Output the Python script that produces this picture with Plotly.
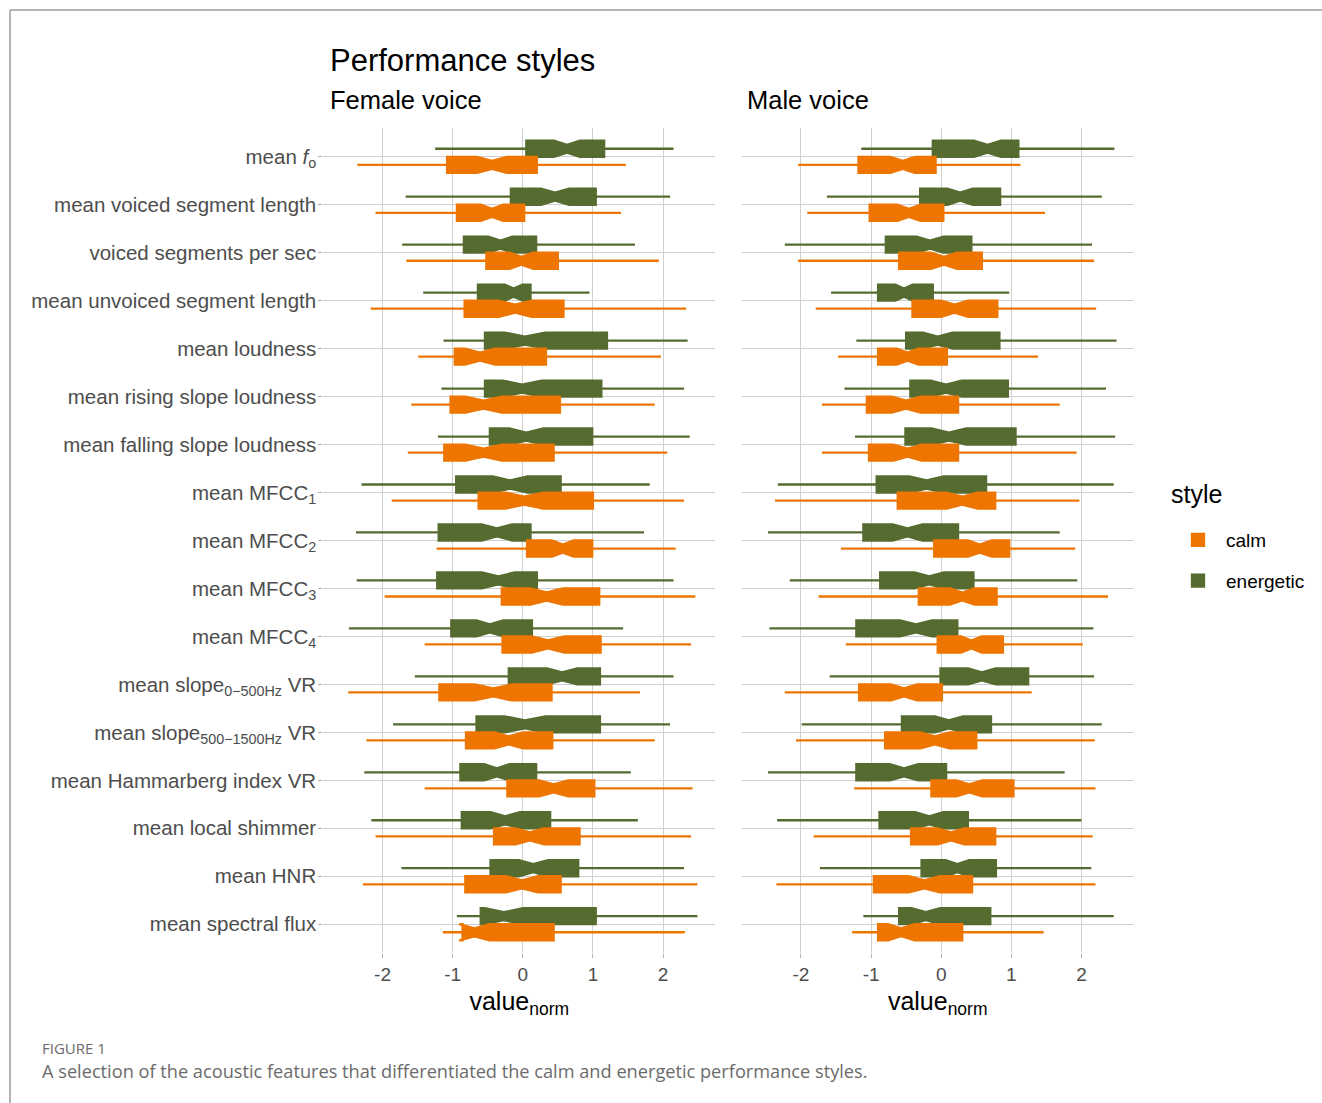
import plotly.graph_objects as go

W, H = 1322, 1103

# Feature labels, top to bottom
features = [
    "mean <i>f</i><sub>o</sub>",
    "mean voiced segment length",
    "voiced segments per sec",
    "mean unvoiced segment length",
    "mean loudness",
    "mean rising slope loudness",
    "mean falling slope loudness",
    "mean MFCC<sub>1</sub>",
    "mean MFCC<sub>2</sub>",
    "mean MFCC<sub>3</sub>",
    "mean MFCC<sub>4</sub>",
    "mean slope<sub>0\u2212500Hz</sub> VR",
    "mean slope<sub>500\u22121500Hz</sub> VR",
    "mean Hammarberg index VR",
    "mean local shimmer",
    "mean HNR",
    "mean spectral flux",
]
x_ticks = [-2, -1, 0, 1, 2]

# Box statistics (normalised values): lower whisker, Q1, median, Q3, upper whisker
female_energetic_lo = [-1.25, -1.67, -1.72, -1.42, -1.13, -1.16, -1.21, -2.30, -2.38, -2.37, -2.48, -1.54, -1.85, -2.26, -2.16, -1.73, -0.94]
female_energetic_q1 = [0.05, -0.17, -0.84, -0.64, -0.54, -0.54, -0.47, -0.95, -1.20, -1.22, -1.02, -0.20, -0.66, -0.89, -0.87, -0.46, -0.60]
female_energetic_med = [0.63, 0.46, -0.32, -0.13, 0.03, -0.01, 0.05, -0.18, -0.37, -0.35, -0.47, 0.56, 0.03, -0.37, -0.25, 0.15, -0.27]
female_energetic_q3 = [1.16, 1.04, 0.19, 0.11, 1.20, 1.12, 0.99, 0.54, 0.11, 0.20, 0.13, 1.10, 1.10, 0.19, 0.39, 0.79, 1.04]
female_energetic_hi = [2.15, 2.10, 1.60, 0.95, 2.35, 2.30, 2.38, 1.81, 1.73, 2.15, 1.43, 2.15, 2.10, 1.54, 1.64, 2.30, 2.49]

female_calm_lo = [-2.36, -2.10, -1.66, -2.17, -1.49, -1.59, -1.64, -1.87, -1.23, -1.97, -1.40, -2.49, -2.23, -1.40, -2.10, -2.28, -1.14]
female_calm_q1 = [-1.08, -0.94, -0.52, -0.83, -0.97, -1.03, -1.12, -0.63, 0.06, -0.30, -0.29, -1.19, -0.81, -0.22, -0.41, -0.82, -0.86]
female_calm_med = [-0.44, -0.44, -0.02, -0.11, -0.61, -0.56, -0.56, 0.02, 0.57, 0.34, 0.36, -0.42, -0.20, 0.44, 0.10, -0.01, -0.69]
female_calm_q3 = [0.20, 0.02, 0.50, 0.58, 0.33, 0.53, 0.44, 1.00, 0.99, 1.09, 1.11, 0.41, 0.42, 1.02, 0.81, 0.54, 0.44]
female_calm_hi = [1.47, 1.40, 1.94, 2.33, 1.97, 1.88, 2.06, 2.30, 2.18, 2.46, 2.40, 1.67, 1.88, 2.42, 2.40, 2.49, 2.31]

male_energetic_lo = [-1.14, -1.63, -2.23, -1.57, -1.21, -1.38, -1.23, -2.33, -2.47, -2.16, -2.45, -1.59, -1.99, -2.47, -2.34, -1.73, -1.11]
male_energetic_q1 = [-0.12, -0.30, -0.79, -0.90, -0.50, -0.44, -0.51, -0.92, -1.11, -0.87, -1.21, -0.01, -0.56, -1.21, -0.88, -0.28, -0.60]
male_energetic_med = [0.66, 0.27, -0.16, -0.53, -0.05, 0.07, 0.11, -0.21, -0.48, -0.17, -0.36, 0.58, 0.11, -0.53, -0.17, 0.23, -0.22]
male_energetic_q3 = [1.10, 0.84, 0.43, -0.12, 0.83, 0.95, 1.06, 0.64, 0.24, 0.46, 0.23, 1.24, 0.71, 0.07, 0.38, 0.78, 0.70]
male_energetic_hi = [2.47, 2.29, 2.15, 0.97, 2.50, 2.35, 2.48, 2.46, 1.69, 1.94, 2.17, 2.18, 2.29, 1.76, 2.00, 2.14, 2.46]

male_calm_lo = [-2.04, -1.91, -2.04, -1.79, -1.47, -1.70, -1.70, -2.37, -1.43, -1.75, -1.36, -2.23, -2.07, -1.24, -1.82, -2.35, -1.27]
male_calm_q1 = [-1.18, -1.02, -0.60, -0.41, -0.90, -1.06, -1.03, -0.62, -0.10, -0.32, -0.05, -1.17, -0.80, -0.14, -0.43, -0.96, -0.90]
male_calm_med = [-0.55, -0.46, 0.04, 0.19, -0.48, -0.50, -0.48, 0.30, 0.55, 0.30, 0.43, -0.53, -0.09, 0.40, 0.14, -0.24, -0.57]
male_calm_q3 = [-0.08, 0.03, 0.58, 0.80, 0.08, 0.24, 0.24, 0.77, 0.97, 0.79, 0.88, 0.01, 0.50, 1.03, 0.77, 0.44, 0.30]
male_calm_hi = [1.13, 1.48, 2.18, 2.21, 1.38, 1.69, 1.93, 1.97, 1.91, 2.38, 2.02, 1.29, 2.19, 2.20, 2.16, 2.20, 1.46]

# Recordings per voice, used for the notch half-width (1.58 * IQR / sqrt(n))
n_female = 90
n_male = 100

style_colors = {"calm": "#EE7600", "energetic": "#556B2F"}
FONT = "Liberation Sans"
positions = list(range(len(features)))


def notch(q1, q3, n):
    return [1.58 * (b - a) / n ** 0.5 for a, b in zip(q1, q3)]


panels = [
    ("x", "y", "f", n_female, {
        "energetic": (female_energetic_lo, female_energetic_q1, female_energetic_med, female_energetic_q3, female_energetic_hi),
        "calm": (female_calm_lo, female_calm_q1, female_calm_med, female_calm_q3, female_calm_hi),
    }),
    ("x2", "y2", "m", n_male, {
        "energetic": (male_energetic_lo, male_energetic_q1, male_energetic_med, male_energetic_q3, male_energetic_hi),
        "calm": (male_calm_lo, male_calm_q1, male_calm_med, male_calm_q3, male_calm_hi),
    }),
]

fig = go.Figure()
for xa, ya, tag, n_obs, stats in panels:
    for style in ["energetic", "calm"]:
        lo, q1, med, q3, hi = stats[style]
        col = style_colors[style]
        fig.add_trace(go.Box(
            orientation="h",
            y=positions,
            q1=q1, median=med, q3=q3,
            lowerfence=lo, upperfence=hi,
            notched=True,
            notchspan=notch(q1, q3, n_obs),
            notchwidth=0.25,
            whiskerwidth=0,
            boxpoints=False,
            fillcolor=col,
            line=dict(color=col, width=2.3),
            name=style,
            legendgroup=style,
            legendrank=1 if style == "calm" else 2,
            showlegend=(tag == "f"),
            offsetgroup=style,
            alignmentgroup=tag,
            xaxis=xa, yaxis=ya,
            hoverinfo="skip",
        ))

grid_col = "#cfcfcf"
xr = [-2.845, 2.745]
yr = [len(features) - 1 + 0.6, -0.6]
ydom = [1 - 953 / H, 1 - 128 / H]

xaxis_common = dict(
    range=xr, tickvals=x_ticks, ticktext=[str(v) for v in x_ticks],
    showgrid=True, gridcolor=grid_col, gridwidth=1, zeroline=False, showline=False,
    ticks="outside", ticklen=4, tickcolor="#b0b0b0",
    tickfont=dict(family=FONT, size=19, color="#4d4d4d"),
    title=dict(text="value<sub>norm</sub>", font=dict(family=FONT, size=25, color="#000000"), standoff=8),
    fixedrange=True,
)
yaxis_common = dict(
    range=yr, showgrid=True, gridcolor=grid_col, gridwidth=1, zeroline=False, showline=False,
    tickvals=positions, fixedrange=True,
)

fig.update_layout(
    width=W, height=H,
    margin=dict(l=0, r=0, t=0, b=0),
    paper_bgcolor="white", plot_bgcolor="white",
    boxmode="group", boxgap=0.33, boxgroupgap=0,
    font=dict(family=FONT, color="#000000"),
    xaxis=dict(domain=[323.3 / W, 715.3 / W], anchor="y", **xaxis_common),
    xaxis2=dict(domain=[741.7 / W, 1133.7 / W], anchor="y2", **xaxis_common),
    yaxis=dict(domain=ydom, anchor="x", ticktext=features, ticks="outside", ticklen=4,
               tickcolor="#b0b0b0", ticklabelstandoff=-2,
               tickfont=dict(family=FONT, size=20.5, color="#4d4d4d"),
               **yaxis_common),
    yaxis2=dict(domain=ydom, anchor="x2", showticklabels=False, ticks="", **yaxis_common),
    legend=dict(
        x=1170 / W, xanchor="left", y=1 - 521 / H, yanchor="top",
        font=dict(family=FONT, size=19, color="#000000"),
        bgcolor="rgba(0,0,0,0)", tracegroupgap=13, itemwidth=46,
    ),
)

# Titles, strip labels and legend heading
fig.add_annotation(text="Performance styles", x=328 / W, y=1 - 60 / H, xref="paper", yref="paper",
                   xanchor="left", yanchor="middle", showarrow=False,
                   font=dict(family=FONT, size=31, color="#000000"))
fig.add_annotation(text="Female voice", x=328 / W, y=1 - 100 / H, xref="paper", yref="paper",
                   xanchor="left", yanchor="middle", showarrow=False,
                   font=dict(family=FONT, size=25.5, color="#000000"))
fig.add_annotation(text="Male voice", x=745 / W, y=1 - 100 / H, xref="paper", yref="paper",
                   xanchor="left", yanchor="middle", showarrow=False,
                   font=dict(family=FONT, size=25.5, color="#000000"))
fig.add_annotation(text="style", x=1169 / W, y=1 - 494 / H, xref="paper", yref="paper",
                   xanchor="left", yanchor="middle", showarrow=False,
                   font=dict(family=FONT, size=25, color="#000000"))

# Figure caption
fig.add_annotation(text="FIGURE 1", x=40 / W, y=1 - 1048 / H, xref="paper", yref="paper",
                   xanchor="left", yanchor="middle", showarrow=False,
                   font=dict(family="Open Sans", size=15, color="#6b6b6b"))
fig.add_annotation(text="A selection of the acoustic features that differentiated the calm and energetic performance styles.",
                   x=40 / W, y=1 - 1071 / H, xref="paper", yref="paper",
                   xanchor="left", yanchor="middle", showarrow=False,
                   font=dict(family="Open Sans", size=18.2, color="#6b6b6b"))

# Figure frame (top and left rules)
frame = dict(color="#9a9a9a", width=1.5)
fig.add_shape(type="line", xref="paper", yref="paper", x0=10 / W, x1=1, y0=1 - 10 / H, y1=1 - 10 / H, line=frame)
fig.add_shape(type="line", xref="paper", yref="paper", x0=10 / W, x1=10 / W, y0=1 - 10 / H, y1=0, line=frame)

fig.write_html("out.html")
